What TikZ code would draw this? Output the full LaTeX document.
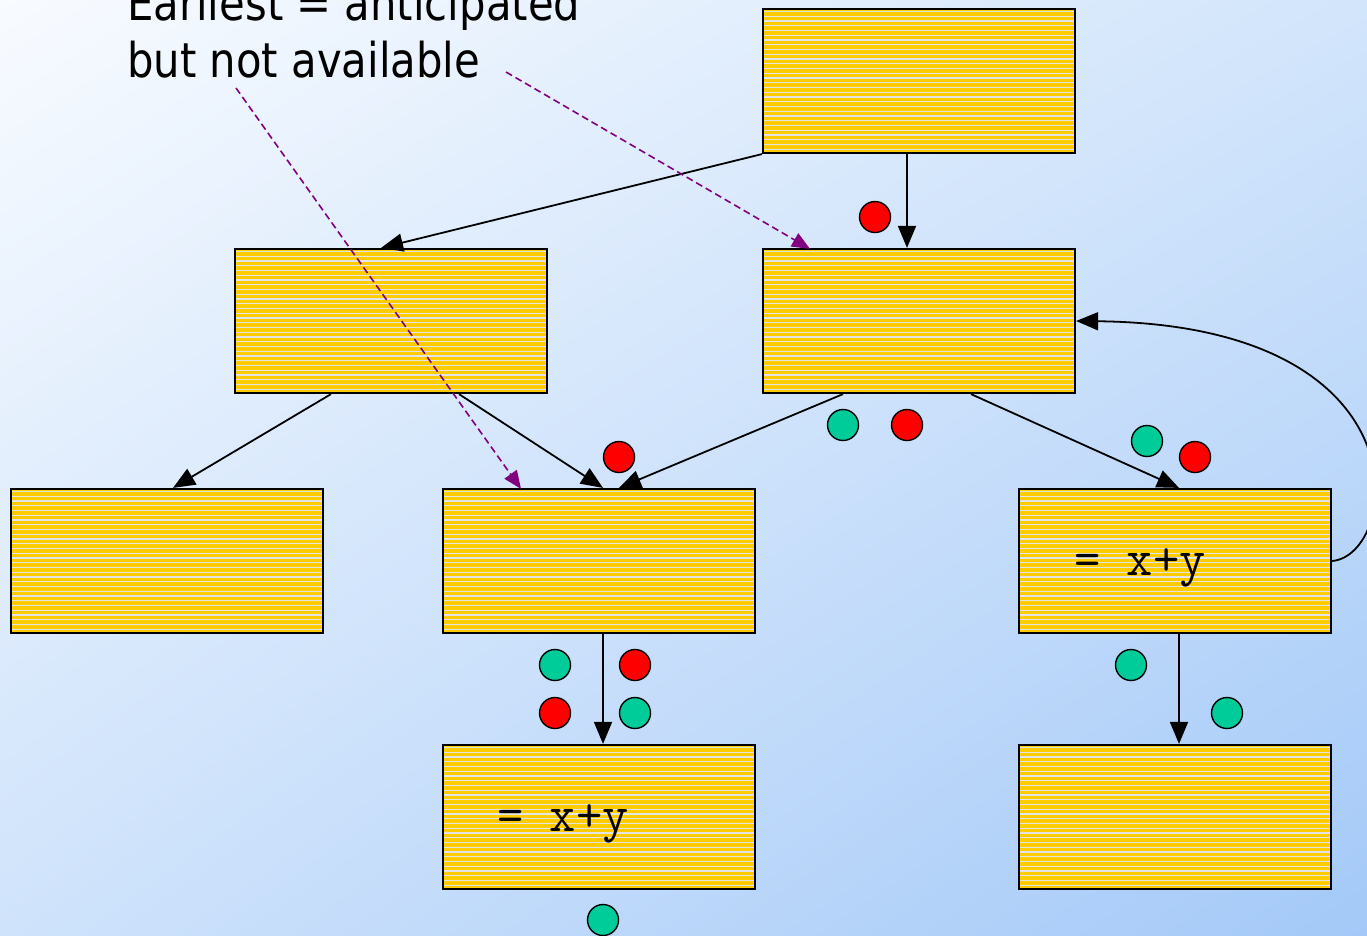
\documentclass[tikz,border=0pt]{standalone}
\usepackage{fontspec}
\usetikzlibrary{arrows.meta,calc,shadings}
\newfontfamily\lblfont[FakeStretch=0.87]{DejaVu Sans}
\definecolor{bgtl}{HTML}{F8FBFF}
\definecolor{bgtr}{HTML}{D2E5FB}
\definecolor{bgbl}{HTML}{CFE3FB}
\definecolor{bgbr}{HTML}{A4C9F8}
\definecolor{boxfill}{HTML}{FFCC00}
\definecolor{stripe}{HTML}{E4E4E4}
\definecolor{dotred}{HTML}{FF0000}
\definecolor{dotgreen}{HTML}{00CC99}
\definecolor{dashpurple}{HTML}{800080}
\begin{document}
\begin{tikzpicture}[x=1pt,y=-1pt,
  ybox/.style={draw=black, line width=2.2pt, fill=boxfill, minimum width=312pt, minimum height=144pt, inner sep=0pt,
    path picture={\foreach \k in {0,...,30} {\draw[stripe, line width=1.1pt] ($(path picture bounding box.north west)+(0,\k*4.75+2.5)$) -- ++(320,0);}}},
  arr/.style={draw=black, line width=1.8pt, -{Triangle[length=22pt,width=18pt]}},
  darr/.style={draw=dashpurple, line width=1.6pt, dash pattern=on 7pt off 4pt, -{Triangle[length=18pt,width=15pt]}},
  dot/.style={circle, draw=black, line width=1.4pt, minimum size=31pt, inner sep=0pt},
  rdot/.style={dot, fill=dotred},
  gdot/.style={dot, fill=dotgreen},
  lbl/.style={anchor=base west, inner sep=0pt, font=\lblfont\fontsize{48}{57}\selectfont},
  code/.style={anchor=base west, inner sep=0pt, font=\ttfamily\fontsize{51}{56}\selectfont}]
\useasboundingbox (0,0) rectangle (1367,935);
\clip (0,0) rectangle (1367,935);
\shade[upper left=bgtl, upper right=bgtr, lower left=bgbl, lower right=bgbr] (0,0) rectangle (1367,935);

% boxes
\node[ybox] (top) at (919,81) {};
\node[ybox] (ml) at (391,321) {};
\node[ybox] (mr) at (919,321) {};
\node[ybox] (r3l) at (167,561) {};
\node[ybox] (r3m) at (599,561) {};
\node[ybox] (r3r) at (1175,561) {};
\node[ybox] (bm) at (599,817) {};
\node[ybox] (br) at (1175,817) {};

\node[code] (c1) at (1074,575) {= x+y};
\node[code] (c2) at (497,831) {= x+y};

% label
\node[lbl] (l1) at (127,20) {Earliest = anticipated};
\node[lbl] (l2) at (127,77) {but not available};

% solid arrows
\draw[arr] (top.south west) -- ([xshift=-10pt]ml.north);
\draw[arr] ([xshift=-12pt]top.south) -- ([xshift=-12pt]mr.north);
\draw[arr] ([xshift=-60pt]ml.south) -- ([xshift=6pt]r3l.north);
\draw[arr] ([xshift=68pt]ml.south) -- ([xshift=4pt]r3m.north);
\draw[arr] ([xshift=-76pt]mr.south) -- ([xshift=20pt]r3m.north);
\draw[arr] ([xshift=52pt]mr.south) -- ([xshift=4pt]r3r.north);
\draw[arr] ([xshift=4pt]r3m.south) -- ([xshift=4pt]bm.north);
\draw[arr] ([xshift=4pt]r3r.south) -- ([xshift=4pt]br.north);
\draw[arr] (r3r.east) .. controls (1400,555) and (1430,325) .. (mr.east);

% dashed arrows
\coordinate (d1) at (506,72);
\coordinate (d2) at (236,88);
\draw[darr] (d1) -- ([xshift=-109pt,yshift=-1pt]mr.north);
\draw[darr] (d2) -- ([xshift=-78pt,yshift=-1pt]r3m.north);

% dots
\node[rdot] (p1) at (875,217) {};
\node[gdot] (p2) at (843,425) {};
\node[rdot] (p3) at (907,425) {};
\node[rdot] (p4) at (619,457) {};
\node[gdot] (p5) at (1147,441) {};
\node[rdot] (p6) at (1195,457) {};
\node[gdot] (p7) at (555,665) {};
\node[rdot] (p8) at (635,665) {};
\node[rdot] (p9) at (555,713) {};
\node[gdot] (p10) at (635,713) {};
\node[gdot] (p11) at (1131,665) {};
\node[gdot] (p12) at (1227,713) {};
\node[gdot] (p13) at (603,920) {};
\end{tikzpicture}
\end{document}
